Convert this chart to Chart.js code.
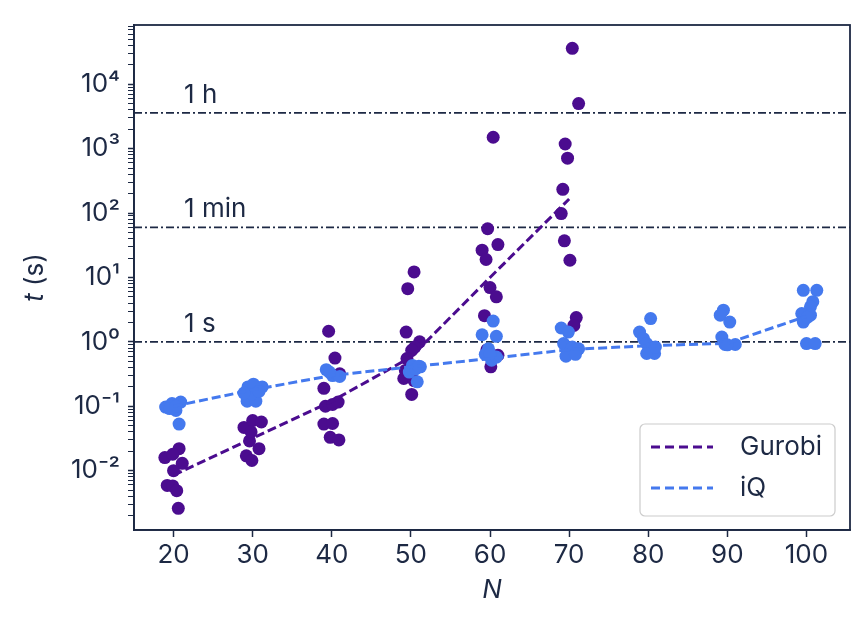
<!DOCTYPE html>
<html>
<head>
<meta charset="utf-8">
<script src="https://cdn.jsdelivr.net/npm/chart.js@4.4.1/dist/chart.umd.min.js"></script>
<style>
  html, body { margin: 0; padding: 0; background: #fff; }
</style>
</head>
<body>
<canvas id="myChart" width="864" height="618"></canvas>
<script>
// ---- data ----
const gurobiN = [18.9, 20.7, 19.9, 21.1, 20.0, 19.2, 19.9, 20.4, 20.6,
  28.9, 30.0, 31.1, 29.6, 29.2, 29.9, 30.8, 29.8,
  39.6, 40.4, 41.0, 39.0, 39.2, 40.1, 40.8, 39.0, 40.1, 39.8, 40.9,
  50.4, 49.6, 49.4, 51.1, 50.5, 50.1, 49.5, 49.1, 50.4, 50.1, 49.3,
  60.4, 59.7, 61.0, 59.0, 59.5, 60.0, 60.8, 59.3, 61.0, 60.1, 59.6,
  70.4, 71.2, 69.5, 69.8, 69.2, 69.0, 69.4, 70.1, 70.9, 70.6];
const gurobiT = [0.016, 0.022, 0.018, 0.013, 0.010, 0.0059, 0.0058, 0.0049, 0.0026,
  0.047, 0.06, 0.057, 0.029, 0.017, 0.0144, 0.022, 0.040,
  1.46, 0.56, 0.32, 0.19, 0.10, 0.107, 0.116, 0.053, 0.054, 0.033, 0.030,
  12.2, 6.7, 1.42, 1.0, 0.83, 0.74, 0.55, 0.27, 0.25, 0.153, 0.36,
  1500, 57, 32.4, 26.5, 19, 6.96, 5.0, 2.55, 0.62, 0.41, 0.75,
  36000, 5000, 1180, 710, 233, 98, 37, 18.5, 2.38, 1.8];

const iqN = [19.0, 19.8, 20.9, 20.3, 20.7, 19.5, 20.3,
  29.4, 30.1, 31.2, 29.3, 30.4, 29.9, 28.9, 30.8,
  39.3, 40.1, 41.0, 39.7,
  50.2, 51.2, 49.8, 50.8, 50.6, 51.0,
  60.4, 59.0, 60.8, 59.8, 59.4, 60.2, 60.8, 60.0,
  69.0, 69.9, 69.3, 70.4, 71.2, 69.6, 70.8,
  80.3, 78.9, 79.4, 79.8, 80.2, 80.8, 79.8, 80.9,
  89.5, 89.1, 90.3, 89.3, 89.7, 91.0, 90.0,
  99.6, 101.3, 100.8, 100.5, 99.4, 100.5, 99.6, 100.0, 101.1, 100.1];
const iqT = [0.097, 0.11, 0.116, 0.086, 0.053, 0.092, 0.10,
  0.20, 0.22, 0.20, 0.12, 0.12, 0.156, 0.16, 0.17,
  0.37, 0.30, 0.29, 0.34,
  0.43, 0.41, 0.34, 0.24, 0.38, 0.42,
  2.1, 1.29, 1.22, 0.78, 0.64, 0.52, 0.58, 0.65,
  1.64, 1.42, 0.94, 0.83, 0.78, 0.6, 0.64,
  2.3, 1.42, 1.12, 0.94, 0.78, 0.66, 0.66, 0.83,
  3.1, 2.6, 2.03, 1.19, 0.91, 0.91, 0.9,
  6.3, 6.3, 4.2, 3.5, 2.75, 2.6, 2.03, 0.94, 0.94, 2.4];

const gurobiFitN = [20, 30, 40, 50, 60, 70];
const gurobiFitT = [0.0085, 0.032, 0.12, 0.58, 10, 165];
const iqFitN = [20, 30, 40, 50, 60, 70, 80, 90, 100];
const iqFitT = [0.10, 0.18, 0.30, 0.41, 0.55, 0.76, 0.87, 0.95, 2.5];

const thresholdValues = [3600, 60, 1];
const thresholdLabels = ['1 h', '1 min', '1 s'];

const xTickValues = [20, 30, 40, 50, 60, 70, 80, 90, 100];
const yTickExponents = [-2, -1, 0, 1, 2, 3, 4];

const legendOrder = ['Gurobi', 'iQ'];

const NAVY = '#1d2944';
const PURPLE = '#4b0c8f';
const BLUE = '#4479ee';
const FONT = 'Inter, "Noto Sans", sans-serif';
const FS = 26;

function zip(xs, ys) {
  return xs.map((x, i) => ({ x: x, y: ys[i] }));
}

const SUP = { '-': '⁻', '0': '⁰', '1': '¹', '2': '²', '3': '³', '4': '⁴', '5': '⁵', '6': '⁶', '7': '⁷', '8': '⁸', '9': '⁹' };
function powLabel(e) {
  return '10' + String(e).split('').map(c => SUP[c]).join('');
}

// extra drawing: threshold lines, frame, legend box, y title
const extras = {
  id: 'extras',
  beforeDatasetsDraw(chart) {
    const ctx = chart.ctx;
    const a = chart.chartArea;
    const y = chart.scales.y;
    ctx.save();
    thresholdValues.forEach((v, i) => {
      const py = y.getPixelForValue(v);
      ctx.strokeStyle = NAVY;
      ctx.lineWidth = 1.8;
      ctx.setLineDash([8, 3, 2, 3]);
      ctx.beginPath();
      ctx.moveTo(a.left, py);
      ctx.lineTo(a.right, py);
      ctx.stroke();
      ctx.setLineDash([]);
      ctx.fillStyle = NAVY;
      ctx.font = FS + 'px ' + FONT;
      ctx.textAlign = 'left';
      ctx.textBaseline = 'alphabetic';
      ctx.fillText(thresholdLabels[i], a.left + 50, py - 10);
    });
    ctx.restore();
  },
  afterDraw(chart) {
    const ctx = chart.ctx;
    const a = chart.chartArea;
    ctx.save();
    // frame
    ctx.strokeStyle = NAVY;
    ctx.lineWidth = 1.8;
    ctx.strokeRect(a.left, a.top, a.right - a.left, a.bottom - a.top);

    // legend
    const bw = 195, bh = 92;
    const bx = a.right - 15 - bw, by = a.bottom - 14 - bh;
    ctx.fillStyle = 'rgba(255,255,255,0.85)';
    ctx.strokeStyle = '#cccccc';
    ctx.lineWidth = 1.2;
    ctx.beginPath();
    ctx.roundRect(bx, by, bw, bh, 5);
    ctx.fill();
    ctx.stroke();
    legendOrder.forEach((name, i) => {
      const d = chart.data.datasets.find(ds => ds.label === name);
      const ly = by + 23 + i * 41;
      ctx.strokeStyle = d.borderColor;
      ctx.lineWidth = 3;
      ctx.setLineDash([9, 5]);
      ctx.beginPath();
      ctx.moveTo(bx + 11, ly);
      ctx.lineTo(bx + 73, ly);
      ctx.stroke();
      ctx.setLineDash([]);
      ctx.fillStyle = NAVY;
      ctx.font = FS + 'px ' + FONT;
      ctx.textAlign = 'left';
      ctx.textBaseline = 'middle';
      ctx.fillText(d.label, bx + 100, ly);
    });

    // y title: italic t followed by (s)
    ctx.translate(35, (a.top + a.bottom) / 2);
    ctx.rotate(-Math.PI / 2);
    ctx.fillStyle = NAVY;
    ctx.textBaseline = 'middle';
    ctx.textAlign = 'left';
    ctx.font = 'italic ' + FS + 'px ' + FONT;
    const w1 = ctx.measureText('t').width;
    ctx.font = FS + 'px ' + FONT;
    const w2 = ctx.measureText(' (s)').width;
    const sx = -(w1 + w2) / 2;
    ctx.font = 'italic ' + FS + 'px ' + FONT;
    ctx.fillText('t', sx, 0);
    ctx.font = FS + 'px ' + FONT;
    ctx.fillText(' (s)', sx + w1, 0);
    ctx.restore();
  }
};

const ctx = document.getElementById('myChart');
const chart = new Chart(ctx, {
  type: 'scatter',
  data: {
    datasets: [
      {
        label: 'iQ',
        data: zip(iqFitN, iqFitT),
        showLine: true,
        borderColor: BLUE,
        borderWidth: 3,
        borderDash: [9, 4],
        pointRadius: 0,
        order: 1
      },
      {
        label: 'iQ points',
        data: zip(iqN, iqT),
        backgroundColor: BLUE,
        borderWidth: 0,
        pointRadius: 6.5,
        order: 2
      },
      {
        label: 'Gurobi',
        data: zip(gurobiFitN, gurobiFitT),
        showLine: true,
        borderColor: PURPLE,
        borderWidth: 3,
        borderDash: [9, 4],
        pointRadius: 0,
        order: 3
      },
      {
        label: 'Gurobi points',
        data: zip(gurobiN, gurobiT),
        backgroundColor: PURPLE,
        borderWidth: 0,
        pointRadius: 6.5,
        order: 4
      }
    ]
  },
  options: {
    responsive: false,
    animation: false,
    devicePixelRatio: 1,
    layout: { padding: { top: 25, right: 14, left: 0, bottom: 0 } },
    plugins: {
      legend: { display: false },
      tooltip: { enabled: false }
    },
    scales: {
      x: {
        type: 'linear',
        min: 15,
        max: 105.5,
        afterBuildTicks: (scale) => {
          scale.ticks = xTickValues.map(v => ({ value: v }));
        },
        afterFit: (scale) => { scale.height = 88; },
        ticks: {
          color: NAVY,
          font: { family: FONT, size: FS },
          padding: 3,
          maxRotation: 0,
          autoSkip: false
        },
        grid: { drawOnChartArea: false, color: NAVY, tickLength: 7, tickWidth: 1.5 },
        border: { color: NAVY, width: 1.8 },
        title: {
          display: true,
          text: 'N',
          color: NAVY,
          font: { family: FONT, size: FS, style: 'italic' },
          padding: { top: 0, bottom: 12 }
        }
      },
      y: {
        type: 'logarithmic',
        min: 0.0012,
        max: 83000,
        afterBuildTicks: (scale) => {
          const t = [];
          for (let e = yTickExponents[0] - 1; e <= yTickExponents[yTickExponents.length - 1]; e++) {
            for (let k = 1; k < 10; k++) {
              const v = k * Math.pow(10, e);
              if (v >= scale.min && v <= scale.max) {
                t.push({ value: v, major: k === 1 && yTickExponents.includes(e) });
              }
            }
          }
          scale.ticks = t;
        },
        afterFit: (scale) => { scale.width = 134; },
        ticks: {
          color: NAVY,
          font: { family: FONT, size: FS },
          padding: 8,
          autoSkip: false,
          callback: function (value) {
            const e = Math.log10(value);
            const r = Math.round(e);
            if (Math.abs(e - r) < 1e-9 && yTickExponents.includes(r)) return powLabel(r);
            return '';
          }
        },
        grid: {
          drawOnChartArea: false,
          color: NAVY,
          tickLength: 6,
          tickWidth: (c) => (c.tick && c.tick.major ? 1.5 : 1)
        },
        border: { color: NAVY, width: 1.8 }
      }
    }
  },
  plugins: [extras]
});
</script>
</body>
</html>
